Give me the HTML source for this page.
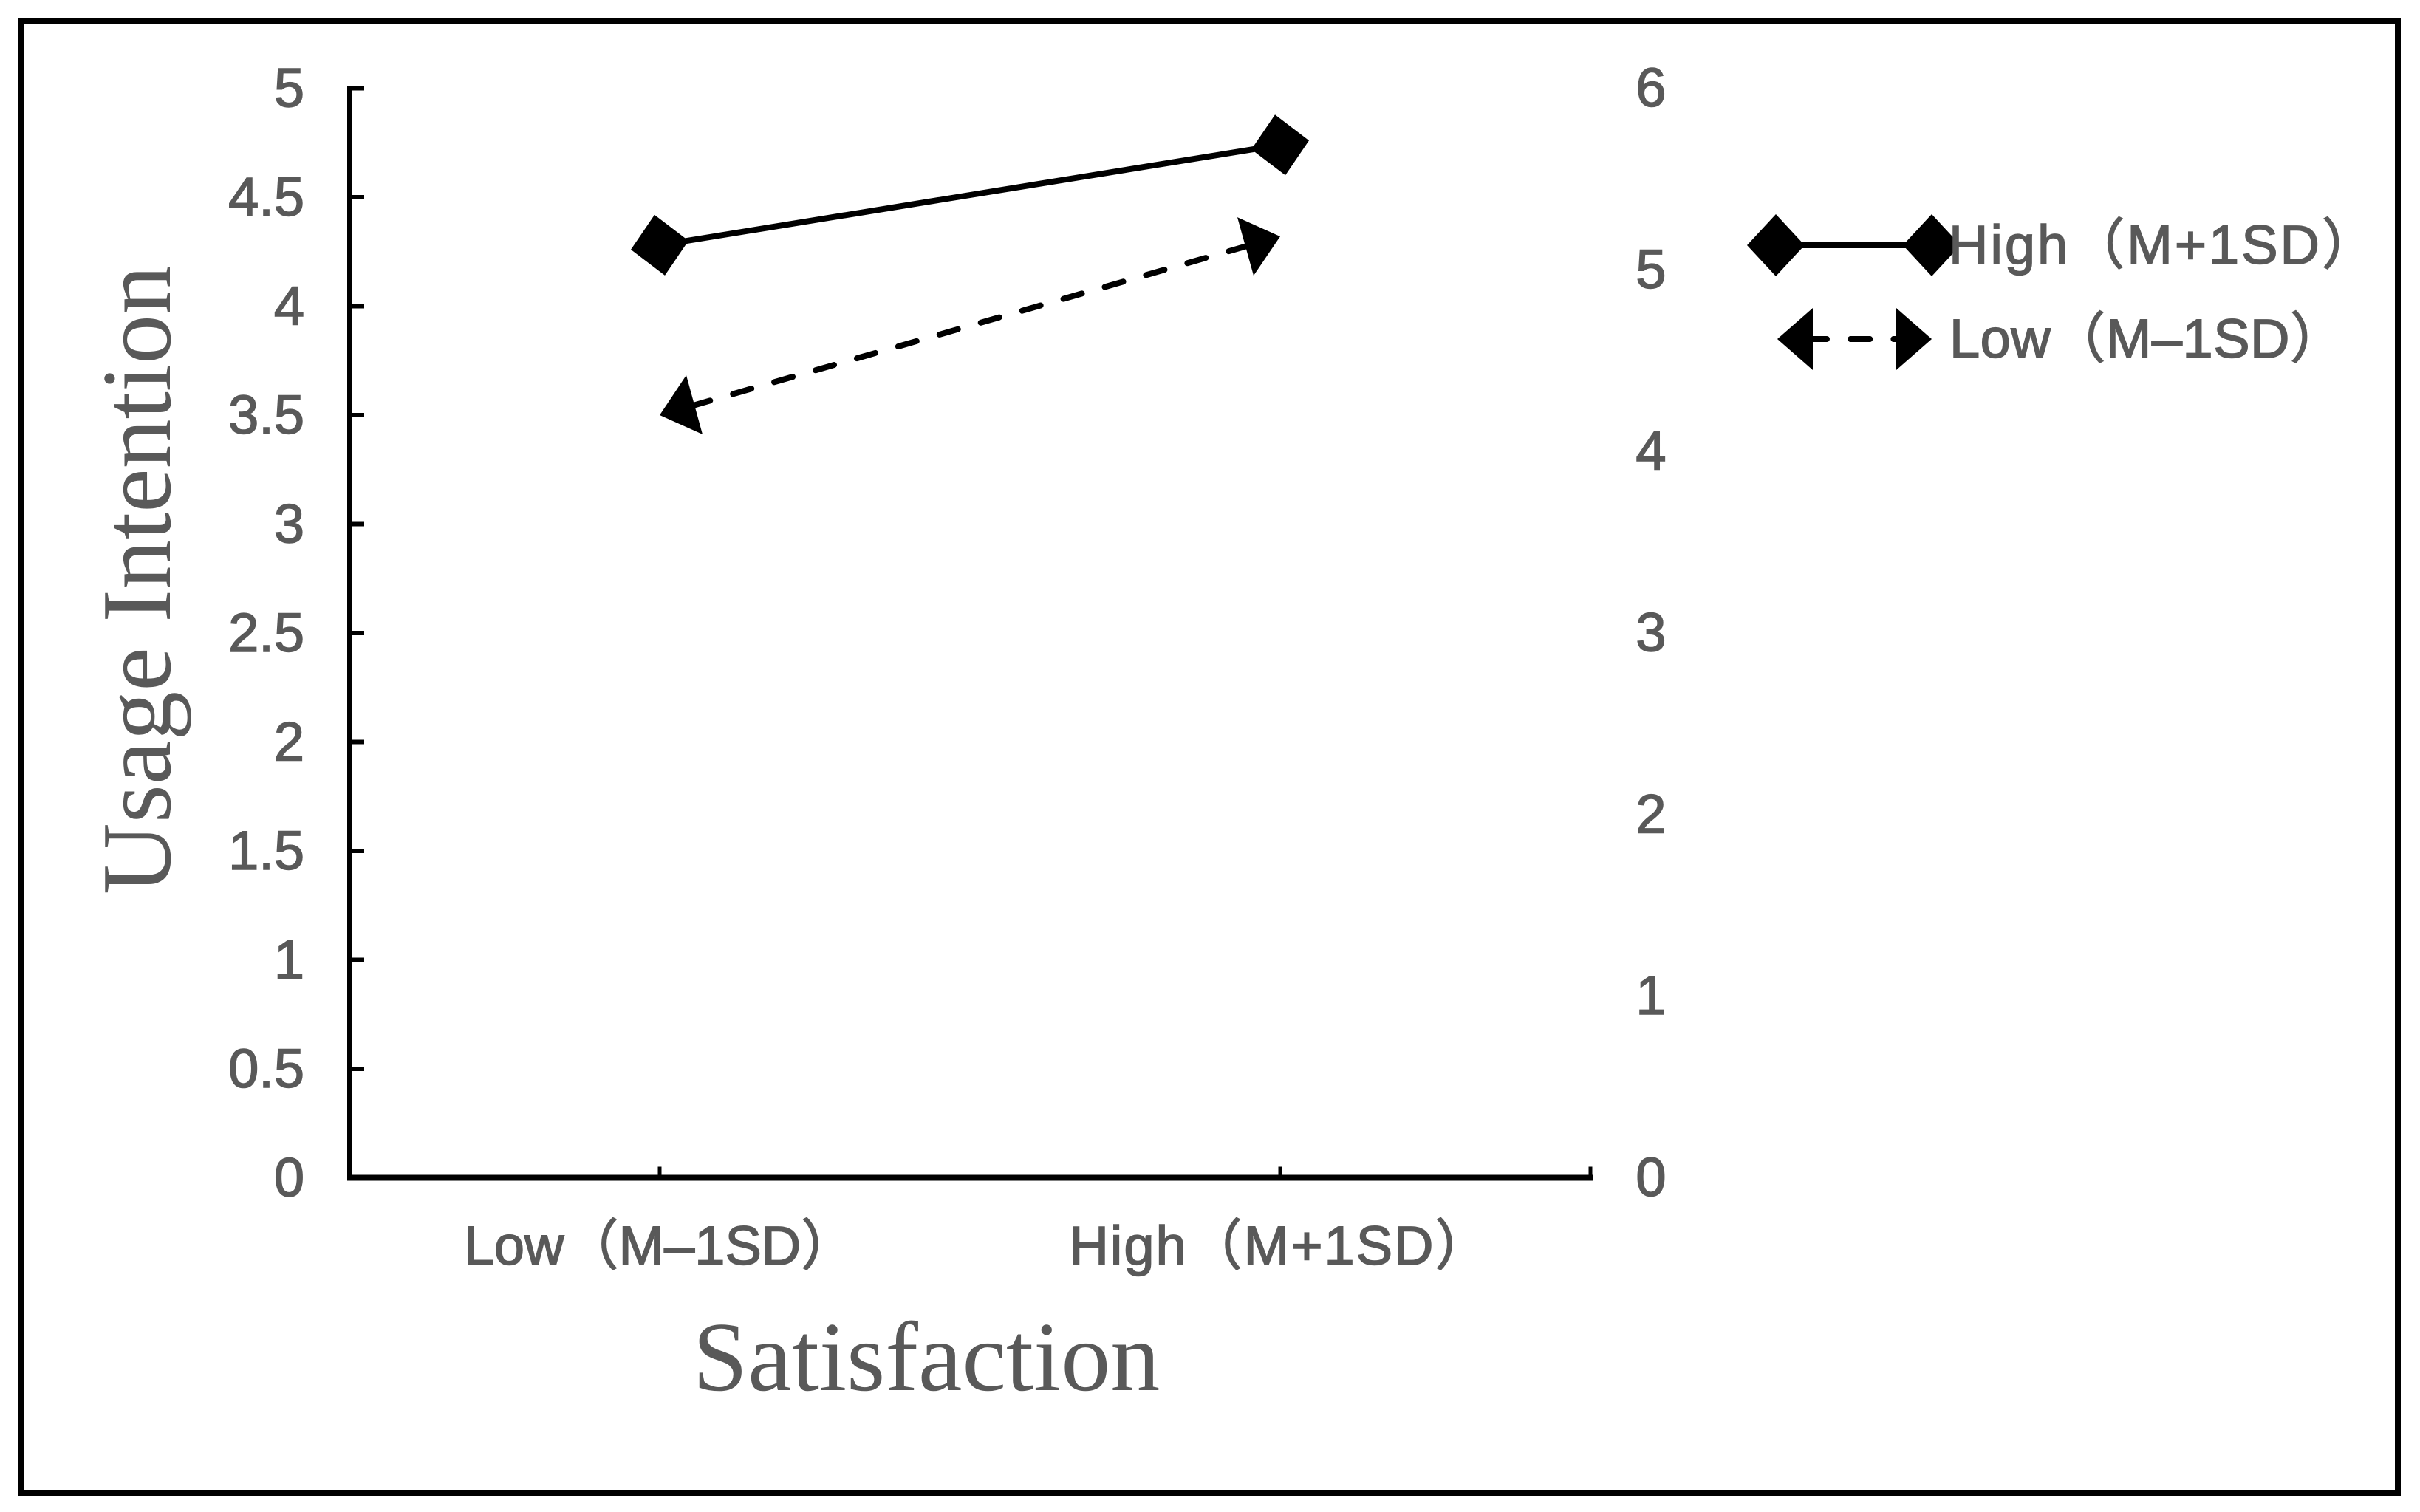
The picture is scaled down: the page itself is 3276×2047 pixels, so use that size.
<!DOCTYPE html>
<html lang="en">
<head>
<meta charset="utf-8">
<title>Usage Intention by Satisfaction</title>
<style>
  html, body { margin: 0; padding: 0; background: #fff; }
  svg { display: block; }
  .sans { font-family: "Liberation Sans", "Noto Sans CJK SC", sans-serif; font-size: 74px; fill: #595959; stroke: #595959; stroke-width: 1.6px; }
  .serif { font-family: "Liberation Serif", serif; font-size: 134px; fill: #595959; }
</style>
</head>
<body>
<svg id="chart" xmlns="http://www.w3.org/2000/svg" width="3276" height="2047" viewBox="0 0 3276 2047">
  <rect x="0" y="0" width="3276" height="2047" fill="#fff"/>
  <rect x="28" y="28" width="3218" height="1993" fill="none" stroke="#000" stroke-width="8"/>
  <g id="axes"></g>
  <g id="series"></g>
  <text class="serif" transform="translate(230,785) rotate(-90)" text-anchor="middle">Usage Intention</text>
  <text class="serif" x="1254" y="1882" text-anchor="middle">Satisfaction</text>
  <g id="legend">
    <g>
      <line x1="2404" y1="332" x2="2615" y2="332" stroke="#000" stroke-width="8"/>
      <polygon points="2404,290 2443,332 2404,374 2365,332" fill="#000"/>
      <polygon points="2615,290 2654,332 2615,374 2576,332" fill="#000"/>
      <text class="sans" x="2638" y="357" letter-spacing="3">High（M+1SD）</text>
    </g>
    <g>
      <line x1="2447" y1="459" x2="2585" y2="459" stroke="#000" stroke-width="8" stroke-linecap="round" stroke-dasharray="26 32.2"/>
      <polygon points="2406,459 2454,417 2454,501" fill="#000"/>
      <polygon points="2615,459 2567,417 2567,501" fill="#000"/>
      <text class="sans" x="2639" y="484" letter-spacing="0.5">Low（M–1SD）</text>
    </g>
  </g>
</svg>
<script>
const categories = ['Low（M–1SD）', 'High（M+1SD）'];
const highValues = [4.28, 4.74];
const lowValues = [3.5, 4.32];
const leftTicks = ['0', '0.5', '1', '1.5', '2', '2.5', '3', '3.5', '4', '4.5', '5'];
const rightTicks = ['0', '1', '2', '3', '4', '5', '6'];

const NS = 'http://www.w3.org/2000/svg';
const plot = { left: 473, right: 2153, top: 119.5, bottom: 1594.5, leftMax: 5, rightMax: 6 };
const xScale = function (i) { return plot.left + (plot.right - plot.left) * (i + 0.5) / categories.length; };
const yLeft = function (v) { return plot.bottom - (plot.bottom - plot.top) * v / plot.leftMax; };
const yRight = function (v) { return plot.bottom - (plot.bottom - plot.top) * v / plot.rightMax; };

function make(parent, tag, attrs, text) {
  const el = document.createElementNS(NS, tag);
  Object.keys(attrs).forEach(function (k) { el.setAttribute(k, attrs[k]); });
  if (text !== undefined) el.textContent = text;
  parent.appendChild(el);
  return el;
}

const axes = document.getElementById('axes');
const series = document.getElementById('series');

const yAxisLine = make(axes, 'line', { x1: plot.left, y1: plot.top - 3, x2: plot.left, y2: plot.bottom + 3, stroke: '#000', 'stroke-width': 6 });



const xAxisLine = make(axes, 'line', { x1: plot.left - 3, y1: plot.bottom, x2: plot.right + 3, y2: plot.bottom, stroke: '#000', 'stroke-width': 8 });



leftTicks.forEach(function (t) {
  const y = yLeft(parseFloat(t));
  const tick = make(axes, 'line', { x1: plot.left, y1: y, x2: plot.left + 20, y2: y, stroke: '#000', 'stroke-width': 6 });
  
  
  const label = make(axes, 'text', { x: 412, y: y + 25, 'text-anchor': 'end', class: 'sans' }, t);
  
  
});

rightTicks.forEach(function (t) {
  const y = yRight(parseFloat(t));
  const label = make(axes, 'text', { x: 2235, y: y + 24.5, 'text-anchor': 'middle', class: 'sans' }, t);
  
  
});

categories.forEach(function (c, i) {
  const x = xScale(i);
  const tick = make(axes, 'line', { x1: x, y1: plot.bottom, x2: x, y2: plot.bottom - 15, stroke: '#000', 'stroke-width': 5 });
  
  
  const label = make(axes, 'text', { x: x, y: 1712, 'text-anchor': 'middle', class: 'sans', 'letter-spacing': i === 1 ? 2 : 0 }, c);
  
  
});

const endTick = make(axes, 'line', { x1: plot.right, y1: plot.bottom, x2: plot.right, y2: plot.bottom - 15, stroke: '#000', 'stroke-width': 5 });



const highLine = make(series, 'line', { x1: xScale(0), y1: yLeft(highValues[0]), x2: xScale(1), y2: yLeft(highValues[1]), stroke: '#000', 'stroke-width': 8 });



// The dashed line is inset so its round caps stay hidden behind the arrowheads.
const lowInset = 45;
const lowDx = xScale(1) - xScale(0);
const lowDy = yLeft(lowValues[1]) - yLeft(lowValues[0]);
const lowLen = Math.sqrt(lowDx * lowDx + lowDy * lowDy);
const lowLine = make(series, 'line', {
  x1: xScale(0) + lowDx / lowLen * lowInset,
  y1: yLeft(lowValues[0]) + lowDy / lowLen * lowInset,
  x2: xScale(1) - lowDx / lowLen * lowInset,
  y2: yLeft(lowValues[1]) - lowDy / lowLen * lowInset,
  stroke: '#000', 'stroke-width': 8, 'stroke-linecap': 'round', 'stroke-dasharray': '26 32.2'
});



highValues.forEach(function (v, i) {
  const m = make(series, 'polygon', { points: '-7,-41 39,-6 7,41 -39,6', fill: '#000', transform: 'translate(' + xScale(i) + ',' + yLeft(v) + ')' });
  
  
});

lowValues.forEach(function (v, i) {
  const shape = i === 0 ? '0,0 36,-54 58,26' : '0,0 -58,-26 -36,53';
  const m = make(series, 'polygon', { points: shape, fill: '#000', transform: 'translate(' + xScale(i) + ',' + yLeft(v) + ')' });
  
  
});
</script>
</body>
</html>
